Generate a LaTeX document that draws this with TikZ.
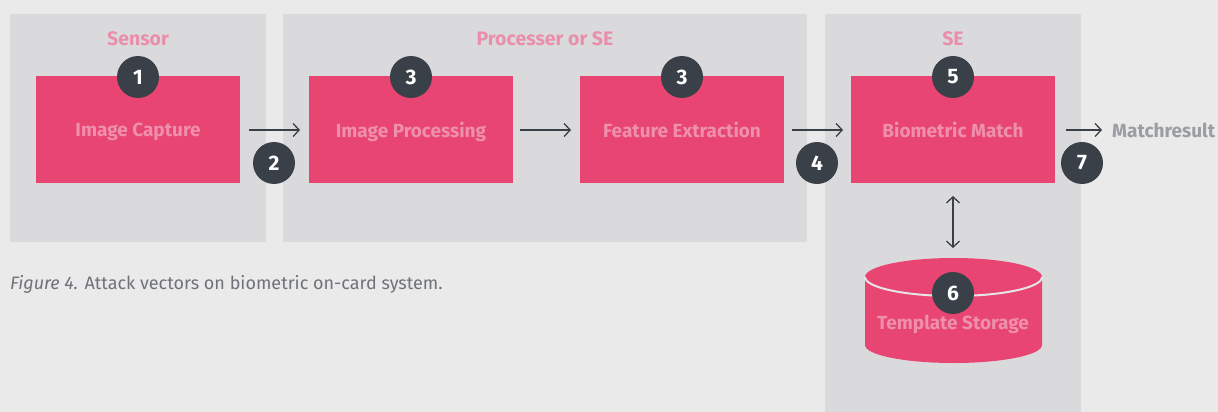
\documentclass[tikz,border=0pt]{standalone}
\usepackage{fontspec}
\setmainfont{Fira Sans}
\usetikzlibrary{arrows.meta}
\definecolor{bg}{HTML}{EAEAEA}
\definecolor{panel}{HTML}{DADADC}
\definecolor{pinkbox}{HTML}{E84573}
\definecolor{pinktxt}{HTML}{EE8FAB}
\definecolor{paneltxt}{HTML}{E98FAC}
\definecolor{darkc}{HTML}{3A4048}
\definecolor{graytxt}{HTML}{9A9DA2}
\definecolor{captxt}{HTML}{6F7278}
\definecolor{seam}{HTML}{E6E4E6}
\begin{document}
\begin{tikzpicture}[x=1pt,y=-1pt,
  procbox/.style={fill=pinkbox,draw=none,minimum width=204pt,minimum height=107pt,inner sep=0pt,text depth=0pt,text=pinktxt,font=\fontsize{19}{21}\selectfont\bfseries},
  numc/.style={circle,fill=darkc,minimum size=42pt,inner sep=0pt,text=white,font=\fontsize{21}{23}\selectfont\bfseries},
  ptitle/.style={text=paneltxt,font=\fontsize{19.5}{21}\selectfont\bfseries},
  flow/.style={draw=darkc,line width=1.3pt,-{Straight Barb[length=6pt,width=13pt,line width=1.3pt]}},
  flow2/.style={draw=darkc,line width=1.3pt,{Straight Barb[length=6pt,width=13pt,line width=1.3pt]}-{Straight Barb[length=6pt,width=13pt,line width=1.3pt]}}]
\useasboundingbox (0,0) rectangle (1218,412);
\fill[bg] (0,0) rectangle (1218,412);
% panels
\fill[panel] (10,14) rectangle (266,242);
\fill[panel] (283,14) rectangle (807,242);
\fill[panel] (825,14) rectangle (1081,412);
\node[ptitle] (t1) at (138,39) {Sensor};
\node[ptitle] (t2) at (545,39) {Processer or SE};
\node[ptitle] (t3) at (953,39) {SE};
% boxes
\node[procbox] (cap) at (138,129.5) {Image Capture};
\node[procbox] (proc) at (411,129.5) {Image Processing};
\node[procbox] (feat) at (682,129.5) {Feature Extraction};
\node[procbox] (match) at (953,129.5) {Biometric Match};
% cylinder
\fill[pinkbox] (865,277) -- (865,345) arc[start angle=180,end angle=0,x radius=88.5,y radius=18] -- (1042,277) arc[start angle=0,end angle=-180,x radius=88.5,y radius=19] -- cycle;
\draw[seam,line width=2pt] (865,277) arc[start angle=180,end angle=0,x radius=88.5,y radius=19];
\node[inner sep=0pt,text=pinktxt,font=\fontsize{19}{21}\selectfont\bfseries] (store) at (953,324) {Template Storage};
\coordinate (storetop) at (953,248);
% arrows
\coordinate (a1s) at (249,130); \coordinate (a1e) at (300,130);
\coordinate (a2s) at (520,130); \coordinate (a2e) at (571,130);
\coordinate (a3s) at (792,130); \coordinate (a3e) at (843,130);
\coordinate (a4s) at (1066,130); \coordinate (a4e) at (1102,130);
\coordinate (vs) at (953,196);
\draw[flow] (a1s) -- (a1e);
\draw[flow] (a2s) -- (a2e);
\draw[flow] (a3s) -- (a3e);
\draw[flow] (a4s) -- (a4e);
\draw[flow2] (vs) -- (storetop);
\node[anchor=west,inner sep=0pt,text=graytxt,font=\fontsize{19}{21}\selectfont\bfseries] (res) at (1112,130) {Matchresult};
% numbers
\node[numc] (n1) at (138,77) {1};
\node[numc] (n2) at (274,163) {2};
\node[numc] (n3a) at (411,77) {3};
\node[numc] (n3b) at (682,77) {3};
\node[numc] (n4) at (817,163) {4};
\node[numc] (n5) at (953,77) {5};
\node[numc] (n6) at (953,293) {6};
\node[numc] (n7) at (1082,163) {7};
% caption
\node[anchor=west,inner sep=0pt,text=captxt,font=\fontsize{18}{20}\selectfont] (capt) at (10,284) {\textit{Figure 4.} Attack vectors on biometric on-card system.};
\end{tikzpicture}
\end{document}
